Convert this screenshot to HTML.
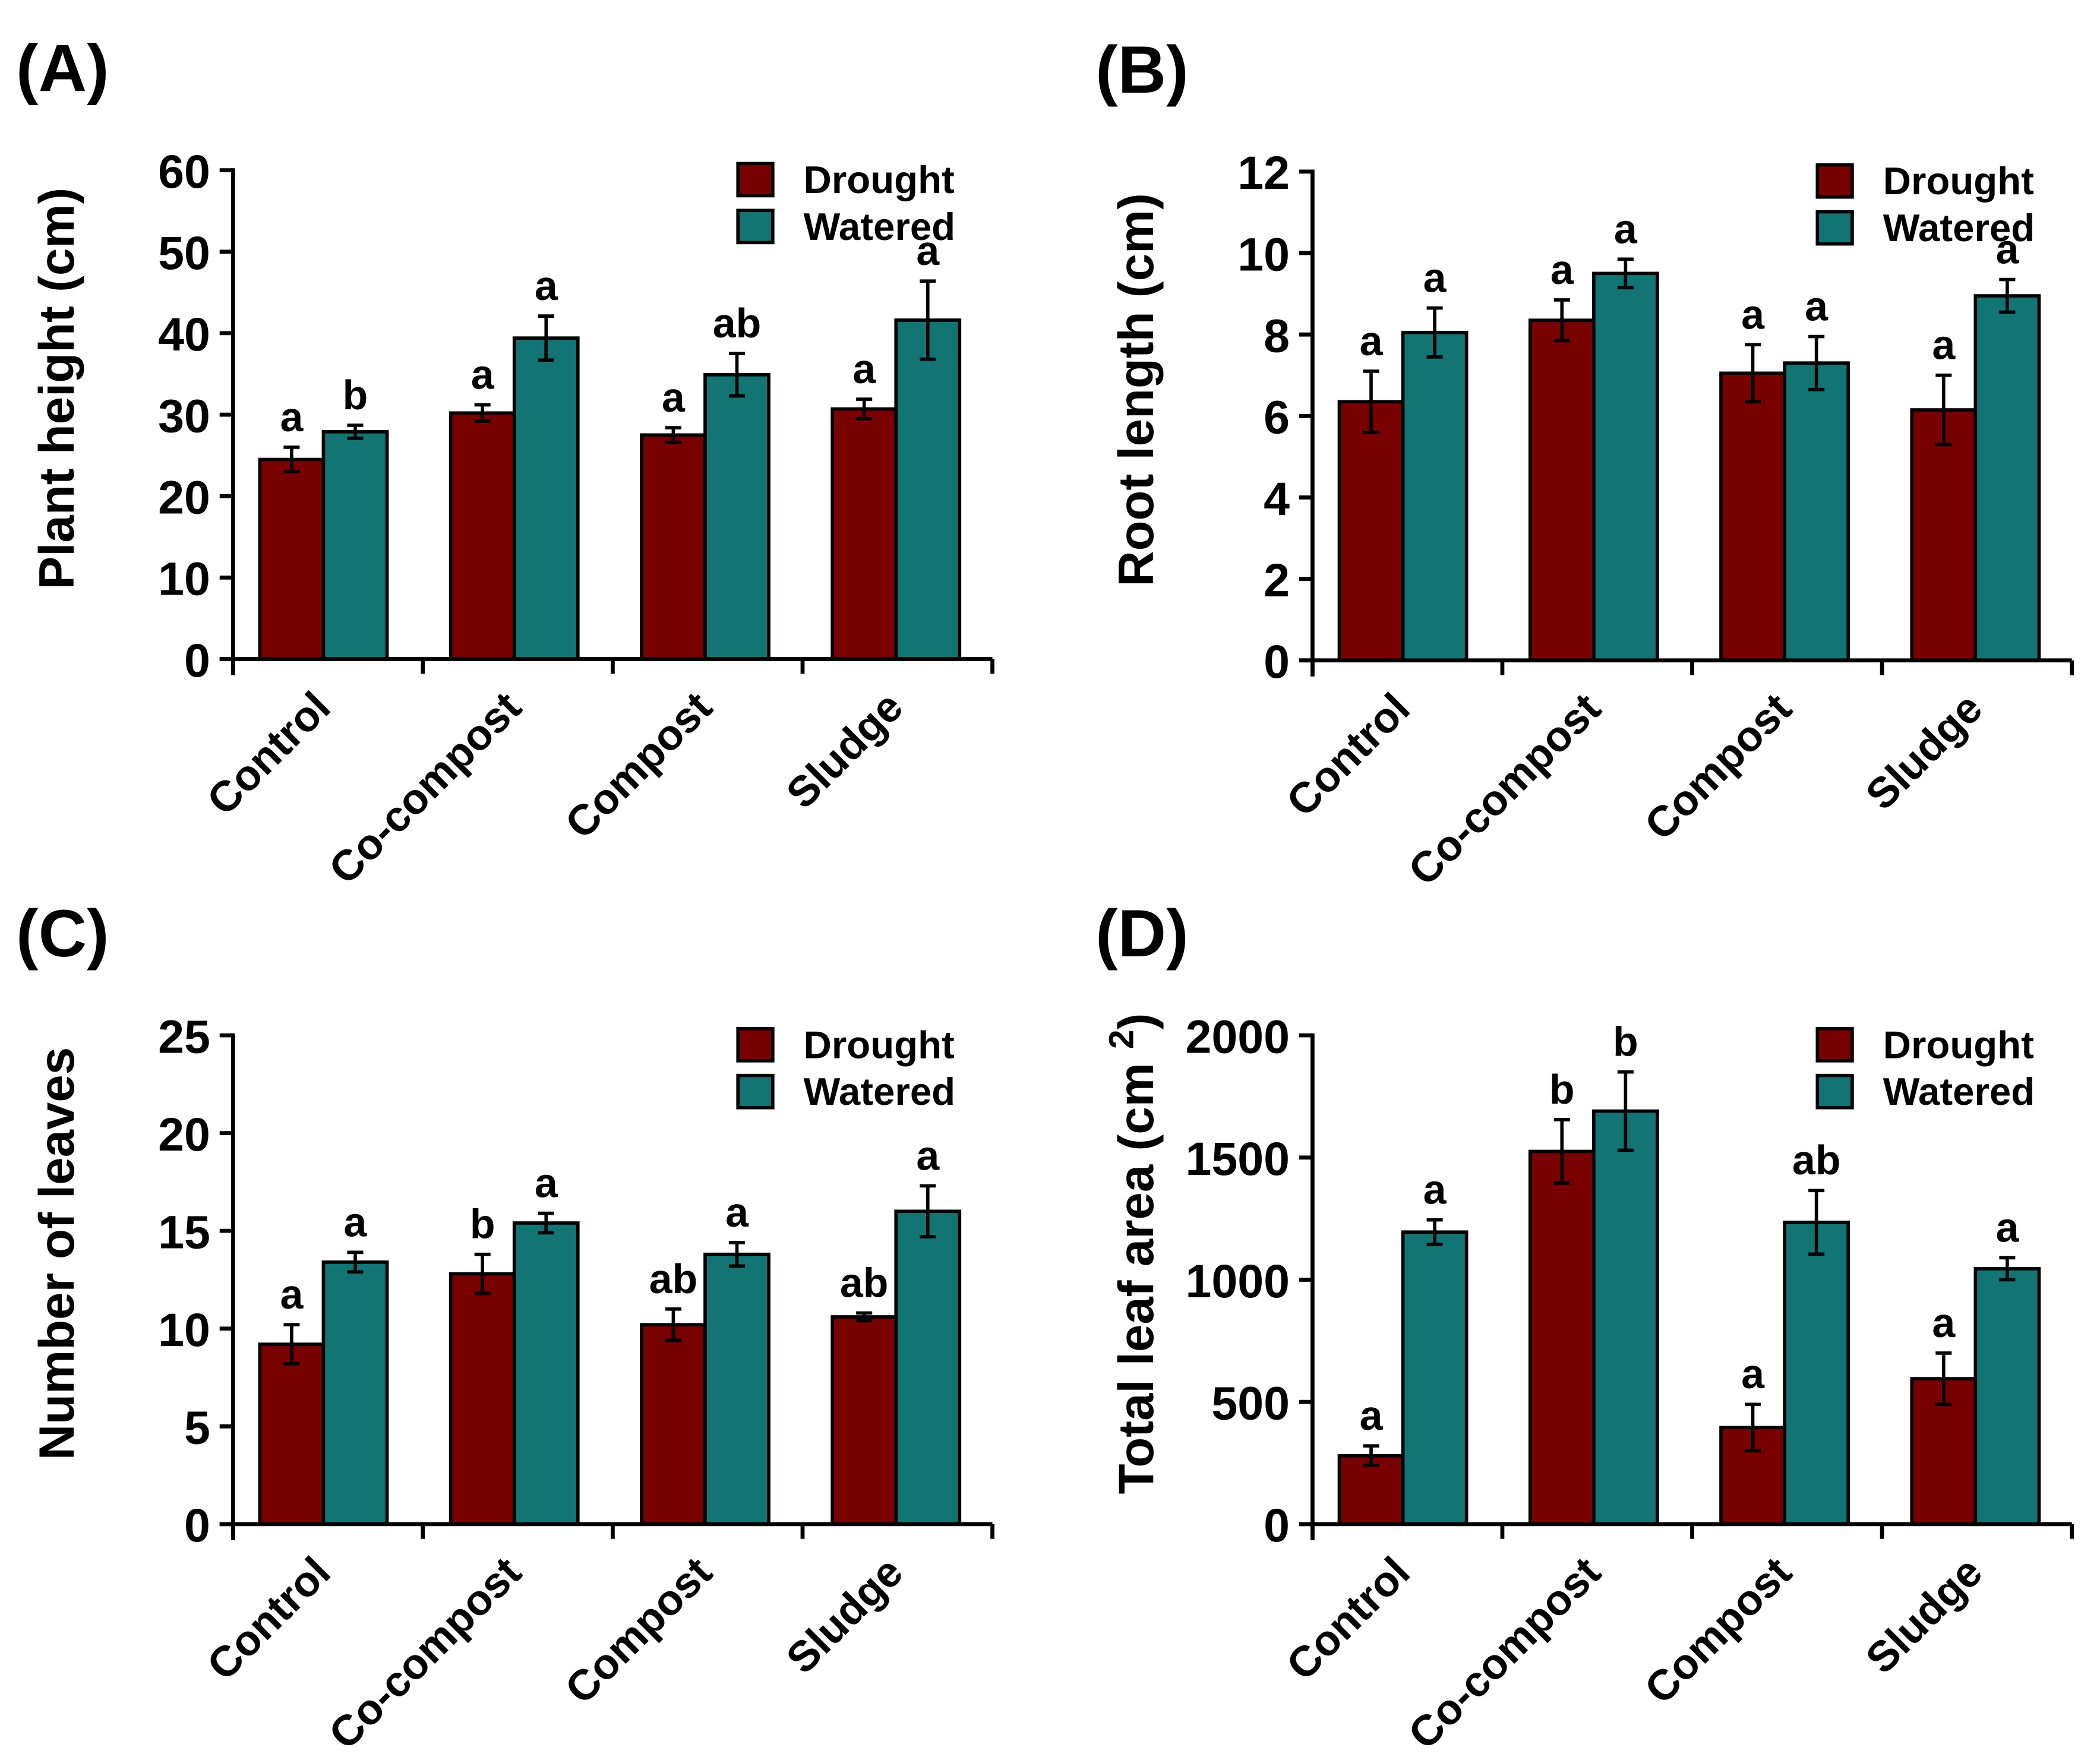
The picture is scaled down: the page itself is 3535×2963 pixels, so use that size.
<!DOCTYPE html>
<html><head><meta charset="utf-8"><style>
html,body{margin:0;padding:0;background:#fff;}
svg{display:block;}
text{font-family:"Liberation Sans",Arial,sans-serif;font-weight:bold;fill:#000;}
</style></head><body>
<svg id="fig" width="3535" height="2963" viewBox="0 0 1568 1314" xmlns="http://www.w3.org/2000/svg"></svg>
<script>
const categories = ["Control","Co-compost","Compost","Sludge"];
const seriesNames = ["Drought","Watered"];
const aDrought = [24.5,30.2,27.5,30.7];
const aDroughtErr = [1.5,1.0,0.9,1.2];
const aWatered = [27.9,39.4,34.9,41.6];
const aWateredErr = [0.8,2.7,2.6,4.8];
const aDroughtLetters = ["a","a","a","a"];
const aWateredLetters = ["b","a","ab","a"];
const aTicks = [0,10,20,30,40,50,60];

const bDrought = [6.35,8.35,7.05,6.15];
const bDroughtErr = [0.75,0.5,0.7,0.85];
const bWatered = [8.05,9.5,7.3,8.95];
const bWateredErr = [0.6,0.35,0.65,0.4];
const bDroughtLetters = ["a","a","a","a"];
const bWateredLetters = ["a","a","a","a"];
const bTicks = [0,2,4,6,8,10,12];

const cDrought = [9.2,12.8,10.2,10.6];
const cDroughtErr = [1.0,1.0,0.8,0.2];
const cWatered = [13.4,15.4,13.8,16.0];
const cWateredErr = [0.5,0.5,0.6,1.3];
const cDroughtLetters = ["a","b","ab","ab"];
const cWateredLetters = ["a","a","a","a"];
const cTicks = [0,5,10,15,20,25];

const dDrought = [280,1525,395,595];
const dDroughtErr = [40,130,95,105];
const dWatered = [1195,1690,1235,1045];
const dWateredErr = [50,160,130,45];
const dDroughtLetters = ["a","b","a","a"];
const dWateredLetters = ["a","b","ab","a"];
const dTicks = [0,500,1000,1500,2000];

const NS = "http://www.w3.org/2000/svg";
const svg = document.getElementById("fig");
function mk(tag, attrs, parent, txt){
  const e = document.createElementNS(NS, tag);
  for (const k in attrs) e.setAttribute(k, attrs[k]);
  if (txt !== undefined) e.textContent = txt;
  (parent||svg).appendChild(e);
  return e;
}
const COL = ["#780000","#127574"];

function panel(p){
  const g = mk("g",{});
  
  
  const ox = p.ox, y0 = p.y0, ytop = p.y0 - 365, ymax = p.ticks[p.ticks.length-1];
  const yS = v => y0 - v / ymax * (y0 - ytop);
  const bw = 47.5, gs = 142.5, gx0 = ox + 20;
  const xS = (i, s) => gx0 + i * gs + s * bw;

  const lab = mk("text",{x:p.ox - 162, y:p.y0 - 424, "font-size":50}, g, "(" + p.id.toUpperCase() + ")");
  
  

  const vals = [p.d, p.w], errs = [p.de, p.we], lets = [p.dl, p.wl];
  for (let s = 0; s < 2; s++){
    for (let i = 0; i < categories.length; i++){
      const x = xS(i, s), yv = yS(vals[s][i]);
      const r = mk("rect",{x:x, y:yv, width:bw, height:y0 - yv, fill:COL[s], stroke:"#000", "stroke-width":2.5}, g);
      
      
      const cx = x + bw/2, yt = yS(vals[s][i] + errs[s][i]), yb = yS(vals[s][i] - errs[s][i]);
      const eg = mk("g",{stroke:"#000","stroke-width":2.5}, g);
      
      
      mk("line",{x1:cx,y1:yt,x2:cx,y2:yb}, eg);
      mk("line",{x1:cx-6,y1:yt,x2:cx+6,y2:yt}, eg);
      mk("line",{x1:cx-6,y1:yb,x2:cx+6,y2:yb}, eg);
      const t = mk("text",{x:cx, y:yt - 12, "font-size":31, "text-anchor":"middle"}, g, lets[s][i]);
      
      
    }
  }

  const ax = mk("g",{stroke:"#000","stroke-width":3,fill:"none"}, g);
  
  
  const xend = ox + 567;
  mk("line",{x1:ox,y1:ytop-1.5,x2:ox,y2:y0+12}, ax);
  mk("line",{x1:ox-10,y1:y0,x2:xend,y2:y0}, ax);
  for (let k = 0; k <= categories.length; k++){
    const tx = ox + k * (xend - ox) / categories.length;
    mk("line",{x1:tx,y1:y0,x2:tx,y2:y0+11}, ax);
  }
  p.ticks.forEach(v => {
    const y = yS(v);
    mk("line",{x1:ox-10,y1:y,x2:ox,y2:y}, ax);
    const t = mk("text",{x:ox-17, y:y+13, "font-size":35, "text-anchor":"end"}, g, String(v));
    
    
  });
  categories.forEach((c, i) => {
    const cx = gx0 + i * gs + bw + 7, cy = y0 + 38;
    const t = mk("text",{x:cx, y:cy, "font-size":32, "text-anchor":"end", transform:"rotate(-45 " + cx + " " + cy + ")"}, g, c);
    
    
  });

  const tx = ox - 119, ty = y0 - 202;
  const yt = mk("text",{x:tx, y:ty, "font-size":37, "text-anchor":"middle", transform:"rotate(-90 " + tx + " " + ty + ")"}, g);
  
  
  if (p.sup){
    mk("tspan",{}, yt, p.title);
    mk("tspan",{dy:-15, "font-size":26}, yt, p.sup);
    mk("tspan",{dy:15}, yt, ")");
  } else yt.textContent = p.title;

  seriesNames.forEach((n, s) => {
    const lx = ox + 377, ly = ytop - 5 + s * 35;
    const lg = mk("g",{}, g);
    
    
    mk("rect",{x:lx, y:ly, width:26, height:24, fill:COL[s], stroke:"#000", "stroke-width":2.5}, lg);
    mk("text",{x:lx + 49, y:ly + 22, "font-size":29}, lg, n);
  });
}

panel({id:"a", ox:174, y0:492, ticks:aTicks, d:aDrought, de:aDroughtErr, w:aWatered, we:aWateredErr, dl:aDroughtLetters, wl:aWateredLetters, title:"Plant height (cm)"});
panel({id:"b", ox:980, y0:493, ticks:bTicks, d:bDrought, de:bDroughtErr, w:bWatered, we:bWateredErr, dl:bDroughtLetters, wl:bWateredLetters, title:"Root length (cm)"});
panel({id:"c", ox:174, y0:1138, ticks:cTicks, d:cDrought, de:cDroughtErr, w:cWatered, we:cWateredErr, dl:cDroughtLetters, wl:cWateredLetters, title:"Number of leaves"});
panel({id:"d", ox:980, y0:1138, ticks:dTicks, d:dDrought, de:dDroughtErr, w:dWatered, we:dWateredErr, dl:dDroughtLetters, wl:dWateredLetters, title:"Total leaf area (cm ", sup:"2"});
</script>
</body></html>
